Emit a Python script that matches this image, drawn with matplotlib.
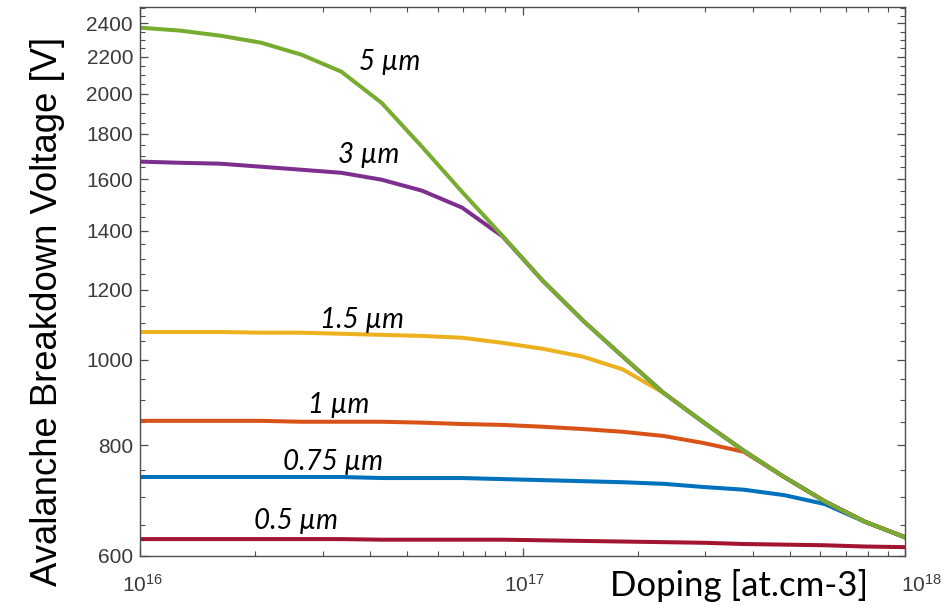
import matplotlib
matplotlib.use("Agg")
import matplotlib.pyplot as plt
from matplotlib.ticker import FixedLocator, FixedFormatter, NullFormatter, LogLocator
from matplotlib.transforms import blended_transform_factory, ScaledTranslation

plt.rcParams["font.family"] = ["Liberation Sans", "DejaVu Sans"]
plt.rcParams["mathtext.fontset"] = "custom"
plt.rcParams["mathtext.rm"] = "Liberation Sans"
plt.rcParams["mathtext.it"] = "Liberation Sans:italic"
plt.rcParams["mathtext.default"] = "regular"

# doping levels [at/cm3]
doping = [1.00e16, 1.27e16, 1.62e16, 2.07e16, 2.64e16, 3.36e16, 4.28e16,
          5.46e16, 6.95e16, 8.86e16, 1.13e17, 1.44e17, 1.83e17, 2.34e17,
          2.98e17, 3.79e17, 4.83e17, 6.16e17, 7.85e17, 1.00e18]

# breakdown voltage [V] per drift thickness
v_075 = [737, 737, 737, 737, 737, 737, 735, 735, 735, 733, 731, 729, 727,
         724, 718, 713, 703, 687, 656, 630]
v_1 = [853, 853, 853, 853, 851, 851, 851, 849, 846, 844, 840, 835, 829,
       820, 805, 787, 737, 692, 656, 630]
v_15 = [1075, 1075, 1075, 1073, 1073, 1070, 1067, 1064, 1059, 1045, 1029,
        1008, 975, 917, 849, 789, 737, 692, 656, 630]
v_3 = [1675, 1670, 1666, 1653, 1640, 1627, 1598, 1553, 1486, 1379, 1228,
       1107, 1008, 917, 849, 789, 737, 692, 656, 630]
v_5 = [2374, 2356, 2325, 2283, 2213, 2117, 1952, 1741, 1548, 1381, 1228,
       1107, 1008, 917, 849, 789, 737, 692, 656, 630]
v_05 = [627, 627, 627, 627, 627, 627, 626, 626, 626, 626, 625, 624, 623,
        622, 621, 619, 618, 617, 615, 614]

series = [
    (v_075, "#0072BD"),
    (v_1, "#D95319"),
    (v_15, "#EDB120"),
    (v_3, "#7E2F8E"),
    (v_5, "#77AC30"),
    (v_05, "#A2142F"),
]

# curve labels: text, x, y (data coords)
labels = [
    ("5 µm", 4.5e16, 2173),
    ("3 µm", 3.95e16, 1705),
    ("1.5 µm", 3.8e16, 1109),
    ("1 µm", 3.3e16, 889),
    ("0.75 µm", 3.2e16, 766),
    ("0.5 µm", 2.56e16, 657),
]

y_ticks = list(range(600, 2401, 200))
y_minor = list(range(600, 2501, 50))
x_ticks = [1e16, 1e17, 1e18]
x_ticklabels = ["$10^{16}$", "$10^{17}$", "$10^{18}$"]
x_label_shift = [2, 2, 16]  # px, as in the source figure

fig = plt.figure(figsize=(9.48, 6.05), dpi=100)
ax = fig.add_axes([0.1477, 0.081, 0.807, 0.9074])

for vals, color in series:
    ax.plot(doping, vals, color=color, lw=2.9, solid_joinstyle="round")

ax.set_xscale("log")
ax.set_yscale("log")
ax.set_xlim(1e16, 1e18)
ax.set_ylim(600, 2505)

ax.yaxis.set_major_locator(FixedLocator(y_ticks))
ax.yaxis.set_minor_locator(FixedLocator(y_minor))
ax.yaxis.set_major_formatter(FixedFormatter([str(v) for v in y_ticks]))
ax.yaxis.set_minor_formatter(NullFormatter())
ax.xaxis.set_major_locator(FixedLocator(x_ticks))
ax.xaxis.set_minor_locator(LogLocator(base=10, subs=range(2, 10), numticks=20))
ax.xaxis.set_major_formatter(NullFormatter())
ax.xaxis.set_minor_formatter(NullFormatter())

spine_c = "#4d4d4d"
for sp in ax.spines.values():
    sp.set_color(spine_c)
    sp.set_linewidth(1.0)
ax.tick_params(which="both", direction="in", top=True, right=True,
               color=spine_c, labelcolor="#3a3a3a", labelsize=15)
ax.tick_params(which="major", length=6, width=0.9, pad=5)
ax.tick_params(which="minor", length=3.5, width=0.8)

trans = blended_transform_factory(ax.transData, ax.transAxes)
for x, txt, dx in zip(x_ticks, x_ticklabels, x_label_shift):
    ax.text(x, -0.033, txt, ha="center", va="top", fontsize=15,
            color="#3a3a3a",
            transform=trans + ScaledTranslation(dx / 100, 0, fig.dpi_scale_trans))

for text, x, y in labels:
    ax.text(x, y, text, ha="center", va="center", fontsize=20,
            style="italic", family="Lato", color="black")

fig.text(868 / 948, 1 - 586 / 605, "Doping [at.cm-3]", ha="right",
         va="center", fontsize=25, family="Lato", color="black")
fig.text(48 / 948, 1 - 311 / 605, "Avalanche Breakdown Voltage [V]",
         rotation=90, ha="center", va="center", fontsize=26.3,
         color="black")

fig.savefig("out.png", dpi=100)
